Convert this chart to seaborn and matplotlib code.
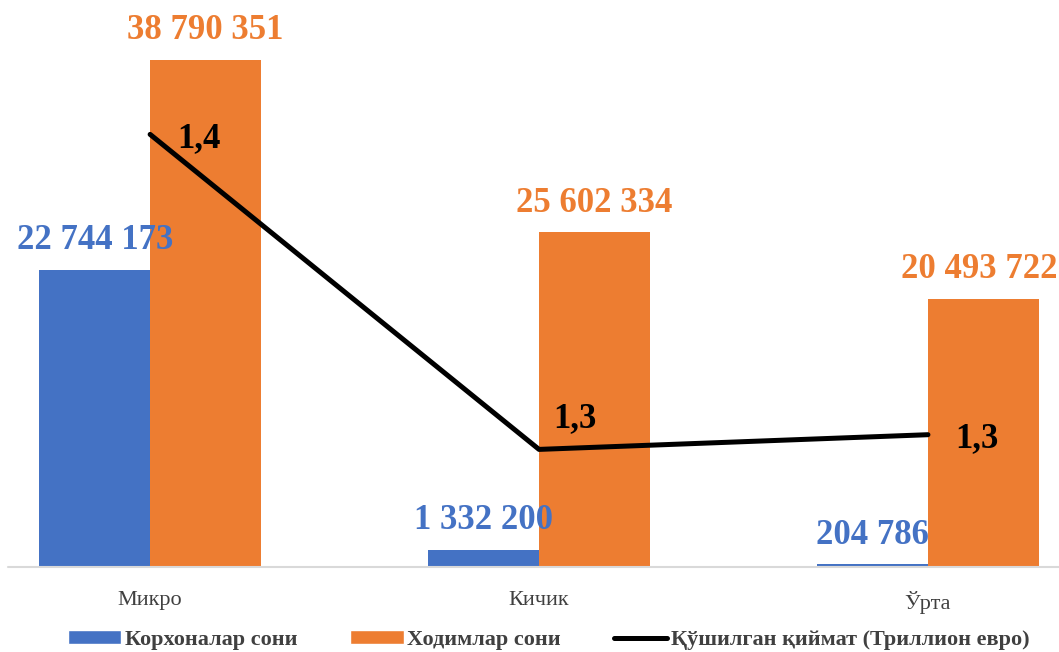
import matplotlib
matplotlib.use("Agg")
import matplotlib.pyplot as plt
import seaborn as sns
import pandas as pd
import numpy as np
from matplotlib.patches import Patch
from matplotlib.lines import Line2D

categories = ["Микро", "Кичик", "Ўрта"]
enterprises = [22744173, 1332200, 204786]
employees = [38790351, 25602334, 20493722]
value_added = [1.41, 1.26, 1.267]
value_labels = ["1,4", "1,3", "1,3"]
series_names = ["Корхоналар сони", "Ходимлар сони", "Қўшилган қиймат (Триллион евро)"]

blue = "#4472C4"
orange = "#ED7D31"

sns.set_style("white")
plt.rcParams["font.family"] = ["Liberation Serif", "DejaVu Serif"]

df = pd.DataFrame({
    "cat": categories * 2,
    "val": enterprises + employees,
    "series": [series_names[0]] * 3 + [series_names[1]] * 3,
})

fig = plt.figure(figsize=(10.59, 6.52), dpi=100)
ax = fig.add_axes([0, 1 - 567 / 652, 1, 567 / 652])
sns.barplot(data=df, x="cat", y="val", hue="series", palette=[blue, orange],
            width=0.57, ax=ax, legend=False, saturation=1, linewidth=0)
ax.set_xlim(-0.386, 2.337)
ax.set_ylim(0, 43.38e6)
for s in ax.spines.values():
    s.set_visible(False)
ax.axhline(0, xmin=0.008, xmax=1, color="#D9D9D9", lw=1.5, clip_on=False)
ax.set_yticks([])
ax.set_xlabel("")
ax.set_ylabel("")
ax.tick_params(axis="x", length=0, pad=17, labelsize=16, labelcolor="#404040")

def fmt(v):
    return f"{v:,}".replace(",", " ")

bw = 0.57 / 2
shift = [0, 0, -3]  # keep the right-most label inside the figure
for i in range(3):
    ax.annotate(fmt(enterprises[i]), (i - bw / 2, enterprises[i]), xytext=(0, 21),
                textcoords="offset points", ha="center", va="center",
                fontsize=25, fontweight="bold", color=blue)
    ax.annotate(fmt(employees[i]), (i + bw / 2, employees[i]), xytext=(shift[i], 21),
                textcoords="offset points", ha="center", va="center",
                fontsize=25, fontweight="bold", color=orange)

ax2 = ax.twinx()
sns.lineplot(x=np.arange(3), y=value_added, color="black", lw=3.6, ax=ax2)
ax2.set_ylim(1.204, 1.474)
ax2.set_yticks([])
for s in ax2.spines.values():
    s.set_visible(False)

offsets = [(35, -3), (26, 22), (35, -3)]
for i in range(3):
    ax2.annotate(value_labels[i], (i, value_added[i]), xytext=offsets[i],
                 textcoords="offset points", ha="center", va="center",
                 fontsize=25, fontweight="bold", color="black")

handles = [
    Patch(facecolor=blue, label=series_names[0]),
    Patch(facecolor=orange, label=series_names[1]),
    Line2D([0], [0], color="black", lw=3.6, label=series_names[2]),
]
fig.legend(handles=handles, loc="center", bbox_to_anchor=(0.518, 1 - 640 / 652),
           ncol=3, frameon=False, handlelength=2.4, handleheight=0.6,
           handletextpad=0.15, columnspacing=2.4,
           prop={"size": 16, "weight": "bold"}, labelcolor="#404040")

fig.savefig("out.png", dpi=100)
